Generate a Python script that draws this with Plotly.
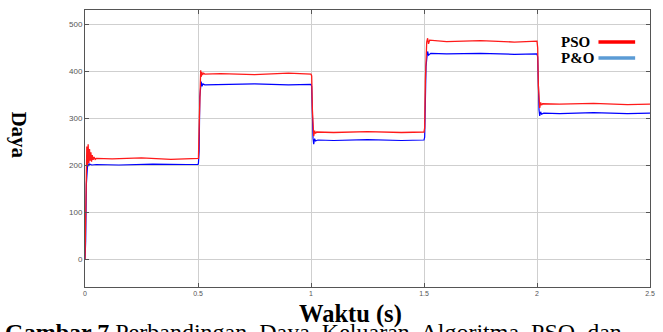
import plotly.graph_objects as go

# PSO output power (time in s, power)
pso_t = [0, 0.004, 0.008, 0.011, 0.014, 0.017, 0.020, 0.023, 0.026, 0.029, 0.032, 0.036, 0.040, 0.045, 0.05,
         0.12, 0.25, 0.38, 0.5,
         0.502, 0.506, 0.508, 0.510, 0.512, 0.514, 0.517, 0.520, 0.525, 0.53, 0.6, 0.75, 0.9, 1.0,
         1.003, 1.006, 1.009, 1.012, 1.016, 1.02, 1.025, 1.1, 1.25, 1.4, 1.5,
         1.503, 1.506, 1.509, 1.512, 1.516, 1.52, 1.525, 1.6, 1.75, 1.9, 2.0,
         2.003, 2.006, 2.009, 2.012, 2.016, 2.02, 2.025, 2.1, 2.25, 2.4, 2.5]
pso_p = [0, 190, 240, 200, 245, 205, 235, 210, 228, 208, 222, 212, 218, 213, 215,
         214, 216, 213, 214,
         215, 300, 370, 390, 402, 388, 398, 392, 396, 394, 395, 393, 396, 394,
         390, 320, 275, 262, 274, 268, 271, 270, 272, 270, 271,
         280, 380, 440, 462, 470, 458, 466, 463, 465, 462, 464,
         450, 370, 335, 322, 334, 328, 331, 330, 332, 329, 330]

# P&O output power
po_t = [0, 0.003, 0.006, 0.009, 0.012, 0.016, 0.02, 0.03, 0.05, 0.15, 0.3, 0.45, 0.5,
        0.502, 0.505, 0.508, 0.511, 0.514, 0.518, 0.522, 0.53, 0.6, 0.75, 0.9, 1.0,
        1.003, 1.006, 1.009, 1.012, 1.016, 1.02, 1.03, 1.1, 1.25, 1.4, 1.5,
        1.503, 1.506, 1.509, 1.512, 1.516, 1.52, 1.53, 1.6, 1.75, 1.9, 2.0,
        2.003, 2.006, 2.009, 2.012, 2.016, 2.02, 2.03, 2.1, 2.25, 2.4, 2.5]
po_p = [0, 40, 160, 195, 205, 199, 203, 201, 202, 201, 203, 202, 202,
        205, 230, 345, 362, 378, 368, 373, 371, 372, 373, 371, 372,
        368, 300, 258, 245, 257, 252, 254, 253, 255, 253, 254,
        260, 360, 410, 425, 442, 434, 438, 437, 438, 436, 437,
        430, 340, 318, 305, 314, 309, 311, 310, 312, 310, 311]

x_ticks = [0, 0.5, 1, 1.5, 2, 2.5]
x_tick_text = ["0", "0.5", "1", "1.5", "2", "2.5"]
y_ticks = [0, 100, 200, 300, 400, 500]

fig = go.Figure()
fig.add_trace(go.Scatter(x=po_t, y=po_p, mode="lines", name="P&O",
                         line=dict(color="#0000ff", width=1.2), showlegend=False))
fig.add_trace(go.Scatter(x=pso_t, y=pso_p, mode="lines", name="PSO",
                         line=dict(color="#ff1a1a", width=1.3), showlegend=False))

serif = "Liberation Serif"

fig.update_layout(
    width=663, height=332,
    margin=dict(l=85, r=8, t=10, b=45),
    paper_bgcolor="white", plot_bgcolor="white",
    xaxis=dict(range=[0, 2.5], tickvals=x_ticks, ticktext=x_tick_text,
               showgrid=True, gridcolor="#cfcfcf", gridwidth=1, zeroline=False,
               showline=True, linecolor="#555555", linewidth=1, mirror="ticks",
               ticks="inside", ticklen=4, tickcolor="#555555",
               tickfont=dict(size=7, color="#555555", family="Liberation Sans")),
    yaxis=dict(range=[-58, 530], tickvals=y_ticks,
               showgrid=True, gridcolor="#cfcfcf", gridwidth=1, zeroline=False,
               showline=True, linecolor="#555555", linewidth=1, mirror="ticks",
               ticks="inside", ticklen=4, tickcolor="#555555",
               tickfont=dict(size=8, color="#555555", family="Liberation Sans")),
    showlegend=False,
)

gap = "&nbsp; "
caption = "<b>Gambar 7</b> " + gap.join(
    ["Perbandingan", "Daya", "Keluaran", "Algoritma", "PSO", "dan"])

annotations = [
    dict(text="<b>PSO</b>", x=0.8386, y=0.8845, xref="paper", yref="paper",
         xanchor="left", yanchor="middle", showarrow=False,
         font=dict(family=serif, size=15, color="black")),
    dict(text="<b>P&O</b>", x=0.8386, y=0.8267, xref="paper", yref="paper",
         xanchor="left", yanchor="middle", showarrow=False,
         font=dict(family=serif, size=15, color="black")),
    dict(text="<b>Waktu (s)</b>", x=353, y=314, xref="paper", yref="paper",
         xanchor="center", yanchor="middle",
         showarrow=False, font=dict(family=serif, size=24.5, color="black")),
    dict(text="<b>Daya</b>", x=18, y=135, xref="paper", yref="paper", textangle=90,
         xanchor="center", yanchor="middle",
         showarrow=False, font=dict(family=serif, size=21, color="black")),
    dict(text=caption,
         x=2, y=317, xref="paper", yref="paper", xanchor="left", yanchor="top",
         showarrow=False, font=dict(family=serif, size=24, color="black")),
]
# convert pixel positions to paper coordinates for the last three
pl, pr, pt, pb = 85, 655, 10, 287
for a in annotations[2:]:
    a["x"] = (a["x"] - pl) / (pr - pl)
    a["y"] = (pb - a["y"]) / (pb - pt)
fig.update_layout(annotations=annotations)

fig.add_shape(type="line", xref="paper", yref="paper", x0=0.9088, x1=0.9737,
              y0=0.8845, y1=0.8845, line=dict(color="#ff0000", width=3.5))
fig.add_shape(type="line", xref="paper", yref="paper", x0=0.9088, x1=0.9737,
              y0=0.8267, y1=0.8267, line=dict(color="#5b9bd5", width=3.5))

fig.write_html("out.html", config={"displayModeBar": False},
               post_script="document.body.style.margin='0';document.body.style.overflow='hidden';")
